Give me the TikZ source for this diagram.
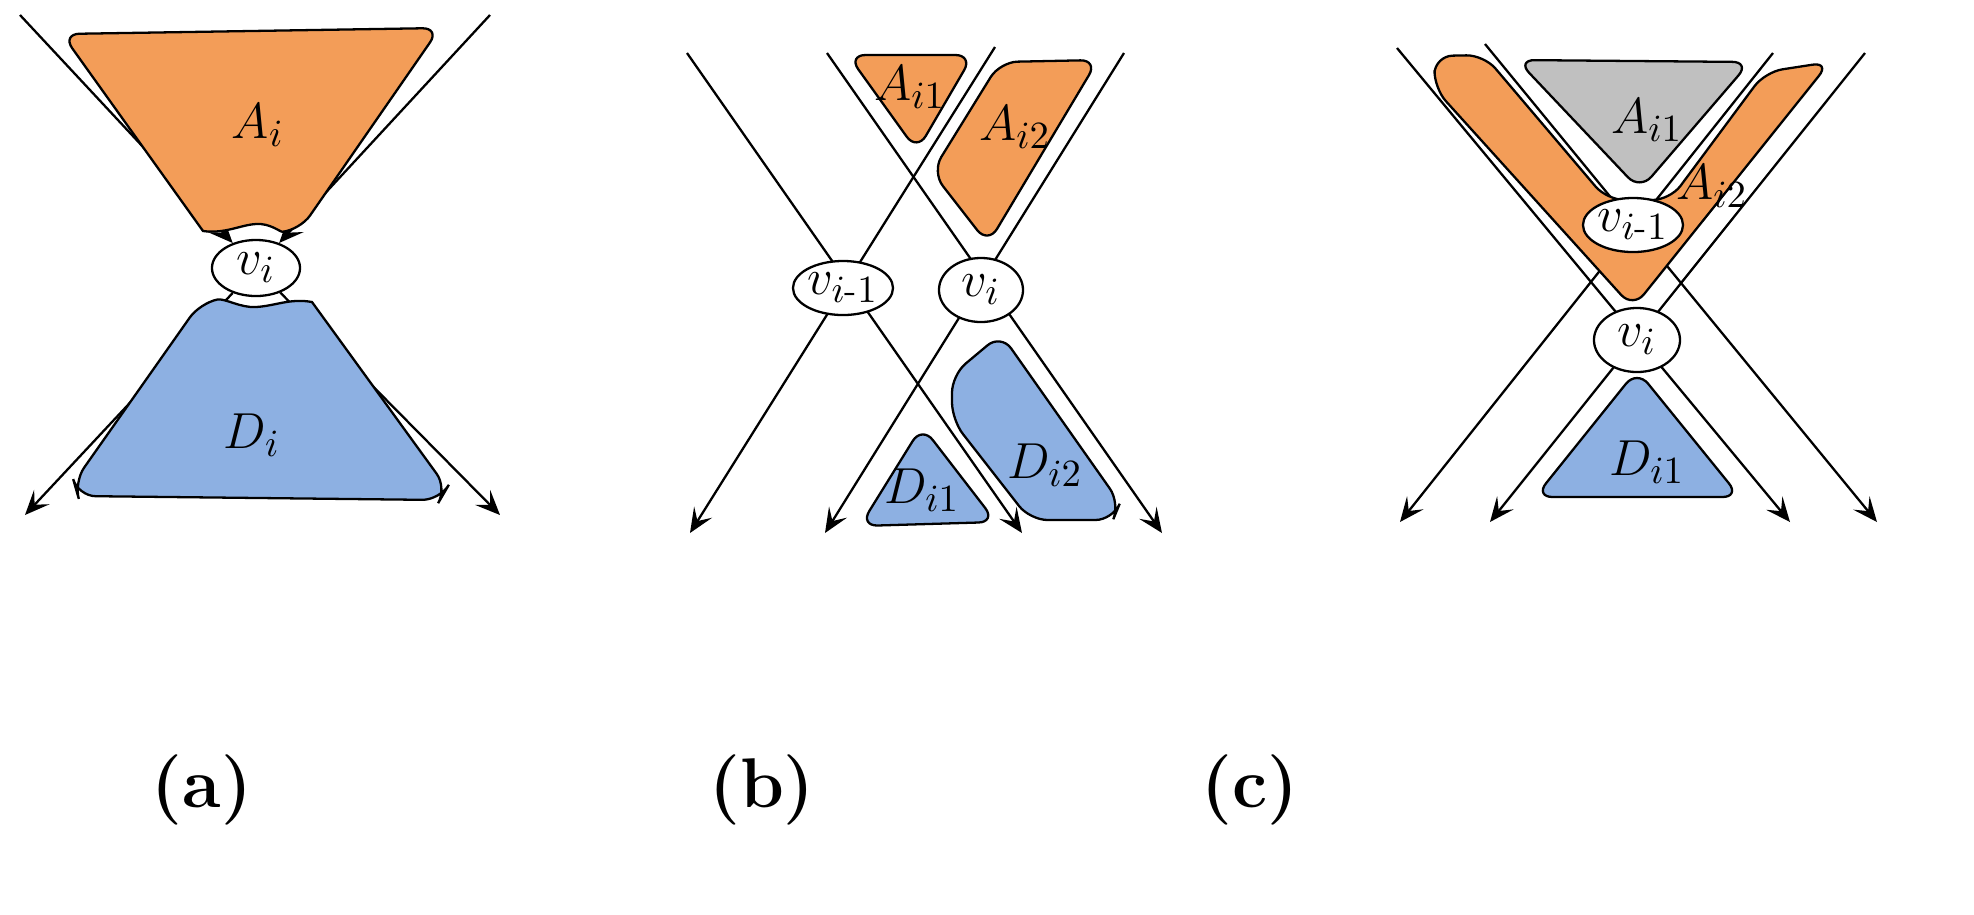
\documentclass[tikz,border=0pt]{standalone}
\usepackage{amsmath}
\usetikzlibrary{arrows.meta,shapes.geometric}
\definecolor{orA}{RGB}{243,157,88}
\definecolor{blD}{RGB}{141,176,226}
\definecolor{grA}{RGB}{192,192,192}
\begin{document}
\begin{tikzpicture}[x=0.01cm,y=-0.01cm,
  ln/.style={line width=0.65pt},
  arr/.style={ln,-{Stealth[length=7pt,width=6pt,inset=3pt]}},
  reg/.style={line width=0.65pt,rounded corners=5pt},
  vx/.style={ellipse,draw,fill=white,line width=0.65pt,inner sep=0pt},
  lab/.style={font=\fontsize{15}{17}\selectfont},
  captxt/.style={font=\fontsize{20}{22}\selectfont\bfseries}]
\useasboundingbox (0,0) rectangle (1974,914);
% ---------------- (a)
\node[vx,minimum width=0.88cm,minimum height=0.56cm,lab] (va) at (256,268) {$v_i$};
\coordinate (a1) at (20,15); \coordinate (a2) at (490,15);
\coordinate (a3) at (500,515); \coordinate (a4) at (25,515);
\draw[arr] (a1) -- (va); \draw[arr] (a2) -- (va);
\draw[arr] (va) -- (a3); \draw[arr] (va) -- (a4);
\draw[line width=0.65pt,fill=orA] (300,230) .. controls (280,232) and (270,223) .. (256,224)
  .. controls (240,225) and (225,234) .. (203,231)
  [rounded corners=5pt] -- (62,34) -- (440,28) -- cycle;
\draw[line width=0.65pt,fill=blD] (200,303) .. controls (225,298) and (240,308) .. (256,307)
  .. controls (275,306) and (290,298) .. (312,302)
  [rounded corners=5pt] -- (447,488) -- (440,500) -- (78,496) -- (74,482) -- cycle;
\node[lab] (la) at (258,125) {$A_i$};
\node[lab] (ld) at (252,435) {$D_i$};
\node[captxt] (ca) at (202,790) {(a)};
% ---------------- (b)
\coordinate (b1s) at (687,53);  \coordinate (b1e) at (1022,533);
\coordinate (b2s) at (827,53);  \coordinate (b2e) at (1162,533);
\coordinate (b3s) at (995,47);  \coordinate (b3e) at (690,533);
\coordinate (b4s) at (1124,53); \coordinate (b4e) at (825,533);
\draw[arr] (b1s) -- (b1e); \draw[arr] (b2s) -- (b2e);
\draw[arr] (b3s) -- (b3e); \draw[arr] (b4s) -- (b4e);
\draw[reg,fill=orA] (848,55) -- (973,55) -- (917,151) -- cycle;
\draw[reg,fill=orA] (1000,62) -- (1098,60) -- (988,244) -- (932,172) -- cycle;
\draw[reg,fill=blD] (922,426) -- (996,522) -- (860,526) -- cycle;
\draw[reg,fill=blD] (1001,334) -- (1120,503) -- (1113,520) -- (1030,520) -- (952,420) -- (952,375) -- cycle;
\node[vx,minimum width=1.0cm,minimum height=0.54cm,lab] (vb1) at (843,288) {$v_{i\text{-}1}$};
\node[vx,minimum width=0.84cm,minimum height=0.64cm,lab] (vb2) at (981,290) {$v_i$};
\node[lab] (lb1) at (910,87) {$A_{i1}$};
\node[lab] (lb2) at (1015,127) {$A_{i2}$};
\node[lab] (lb3) at (922,490) {$D_{i1}$};
\node[lab] (lb4) at (1045,465) {$D_{i2}$};
\node[captxt] (cb) at (762,790) {(b)};
% ---------------- (c)
\coordinate (cAs) at (1773,53); \coordinate (cAe) at (1400,522);
\coordinate (cBs) at (1865,53); \coordinate (cBe) at (1490,522);
\coordinate (cCs) at (1485,44); \coordinate (cCe) at (1877,522);
\coordinate (cDs) at (1397,48); \coordinate (cDe) at (1790,522);
\draw[arr] (cAs) -- (cAe); \draw[arr] (cBs) -- (cBe);
\draw[arr] (cCs) -- (cCe); \draw[arr] (cDs) -- (cDe);
\draw[reg,fill=grA] (1517,60) -- (1750,62) -- (1640,190) -- cycle;
\draw[reg,fill=orA] (1435,56) -- (1484,55) -- (1607,200) -- (1670,200)
  -- (1765,72) -- (1830,62) -- (1633,308) -- (1434,88) -- cycle;
\draw[reg,fill=blD] (1637,370) -- (1740,497) -- (1535,497) -- cycle;
\node[vx,minimum width=1.0cm,minimum height=0.54cm,lab] (vc1) at (1633,225) {$v_{i\text{-}1}$};
\node[vx,minimum width=0.86cm,minimum height=0.64cm,lab] (vc2) at (1637,340) {$v_i$};
\node[lab] (lc1) at (1647,120) {$A_{i1}$};
\node[lab] (lc2) at (1712,186) {$A_{i2}$};
\node[lab] (lc3) at (1647,462) {$D_{i1}$};
\node[captxt] (cc) at (1250,790) {(c)};
\end{tikzpicture}
\end{document}
